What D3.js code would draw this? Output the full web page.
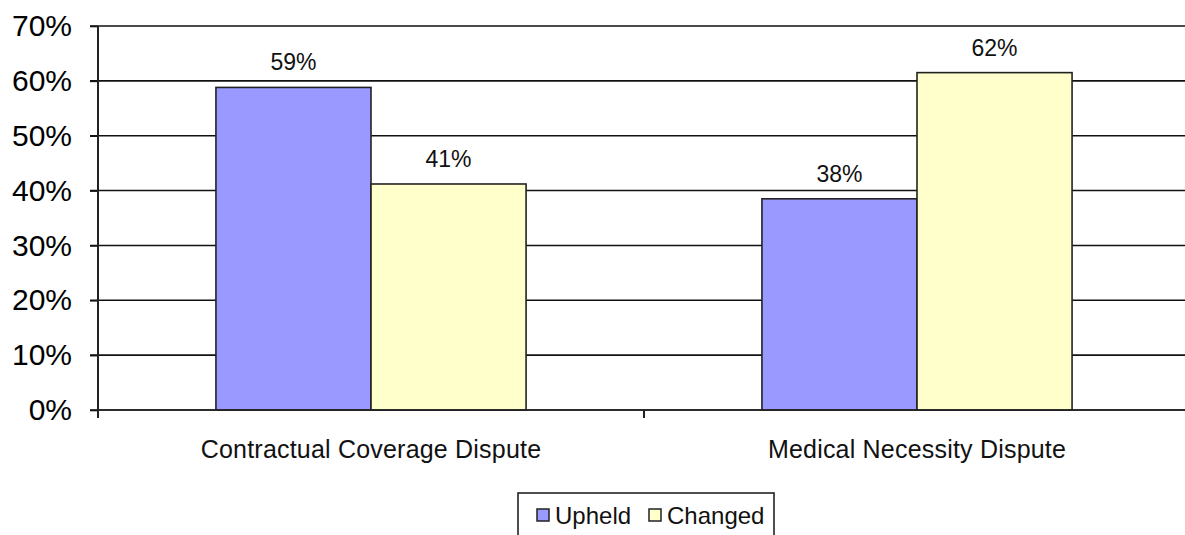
<!DOCTYPE html>
<html>
<head>
<meta charset="utf-8">
<script src="https://cdn.jsdelivr.net/npm/d3@7"></script>
<style>
	body { margin: 0; background: #fff; }
	svg { display: block; font-family: Arial, "Liberation Sans", sans-serif; }
</style>
</head>
<body>
<script>
// chart data
const categories = ['Contractual Coverage Dispute', 'Medical Necessity Dispute'];
const seriesNames = ['Upheld', 'Changed'];
const upheld = [0.588, 0.385];
const changed = [0.412, 0.615];
const valueLabels = [['59%', '41%'], ['38%', '62%']];
const yTicks = [0, 0.1, 0.2, 0.3, 0.4, 0.5, 0.6, 0.7];
const colors = ['#9999ff', '#ffffcc'];

const W = 1185, H = 535;
const margin = { top: 26, left: 98, right: -5, bottom: 125 };
const plotRight = W - margin.right;
const plotBottom = H - margin.bottom;

const svg = d3.select('body').append('svg')
	.attr('width', W)
	.attr('height', H);

const x = d3.scaleBand()
	.domain(categories)
	.range([margin.left, plotRight])
	.paddingInner(0.432)
	.paddingOuter(0.216);

const xSeries = d3.scaleBand()
	.domain(seriesNames)
	.range([0, x.bandwidth()]);

const y = d3.scaleLinear()
	.domain([0, 0.7])
	.range([plotBottom, margin.top]);

// gridlines
svg.append('g')
	.selectAll('line')
	.data(yTicks)
	.join('line')
	.attr('x1', margin.left - 8)
	.attr('x2', plotRight)
	.attr('y1', d => y(d))
	.attr('y2', d => y(d))
	.attr('stroke', '#111')
	.attr('stroke-width', 1.6);

// y axis labels
const yAxis = d3.axisLeft(y)
	.tickValues(yTicks)
	.tickFormat(d3.format('.0%'))
	.tickSize(8)
	.tickPadding(18);

const yg = svg.append('g')
	.attr('transform', 'translate(' + margin.left + ',0)')
	.call(yAxis);
yg.select('.domain').remove();
yg.selectAll('.tick line').attr('stroke', '#111').attr('stroke-width', 1.6);
yg.selectAll('text')
	.attr('fill', '#000')
	.style('font-size', '30px')
	.style('font-family', 'Arial, "Liberation Sans", sans-serif');

// bars
const rows = categories.map((c, i) => ({ cat: c, vals: [upheld[i], changed[i]], labels: valueLabels[i] }));

const groups = svg.append('g')
	.selectAll('g')
	.data(rows)
	.join('g')
	.attr('transform', d => 'translate(' + x(d.cat) + ',0)');

groups.selectAll('rect')
	.data(d => d.vals.map((v, j) => ({ s: seriesNames[j], v: v, j: j })))
	.join('rect')
	.attr('x', d => xSeries(d.s))
	.attr('y', d => y(d.v))
	.attr('width', xSeries.bandwidth())
	.attr('height', d => plotBottom - y(d.v))
	.attr('fill', d => colors[d.j])
	.attr('stroke', '#222')
	.attr('stroke-width', 1.6);

groups.selectAll('text')
	.data(d => d.vals.map((v, j) => ({ s: seriesNames[j], v: v, label: d.labels[j] })))
	.join('text')
	.attr('x', d => xSeries(d.s) + xSeries.bandwidth() / 2)
	.attr('y', d => y(d.v) - 17)
	.attr('text-anchor', 'middle')
	.style('font-size', '23px')
	.attr('fill', '#111')
	.text(d => d.label);

// axes lines
svg.append('line')
	.attr('x1', margin.left).attr('x2', margin.left)
	.attr('y1', margin.top).attr('y2', plotBottom + 8)
	.attr('stroke', '#222')
	.attr('stroke-width', 2);

svg.append('line')
	.attr('x1', margin.left).attr('x2', plotRight)
	.attr('y1', plotBottom).attr('y2', plotBottom)
	.attr('stroke', '#222')
	.attr('stroke-width', 1.6);

// category separators
svg.append('g')
	.selectAll('line')
	.data(categories.slice(1))
	.join('line')
	.attr('x1', d => x(d) - x.step() * x.paddingInner() / 2)
	.attr('x2', d => x(d) - x.step() * x.paddingInner() / 2)
	.attr('y1', plotBottom)
	.attr('y2', plotBottom + 8)
	.attr('stroke', '#222')
	.attr('stroke-width', 2);

// category labels
const xAxis = d3.axisBottom(x).tickSize(0).tickPadding(30);
const xg = svg.append('g')
	.attr('transform', 'translate(0,' + plotBottom + ')')
	.call(xAxis);
xg.select('.domain').remove();
xg.selectAll('text')
	.attr('fill', '#111')
	.style('font-size', '25px')
	.style('letter-spacing', '0.2px')
	.style('font-family', 'Arial, "Liberation Sans", sans-serif');

// legend
const legend = svg.append('g').attr('transform', 'translate(518,493)');
legend.append('rect')
	.attr('width', 256)
	.attr('height', 60)
	.attr('fill', '#fff')
	.attr('stroke', '#222')
	.attr('stroke-width', 1.6);

const legendX = [19, 131];
seriesNames.forEach((s, i) => {
	legend.append('rect')
		.attr('x', legendX[i])
		.attr('y', 16)
		.attr('width', 12)
		.attr('height', 12)
		.attr('fill', colors[i])
		.attr('stroke', '#222')
		.attr('stroke-width', 1.5);
	legend.append('text')
		.attr('x', legendX[i] + 18)
		.attr('y', 31)
		.style('font-size', '24px')
		.attr('fill', '#111')
		.text(s);
});
</script>
</body>
</html>
